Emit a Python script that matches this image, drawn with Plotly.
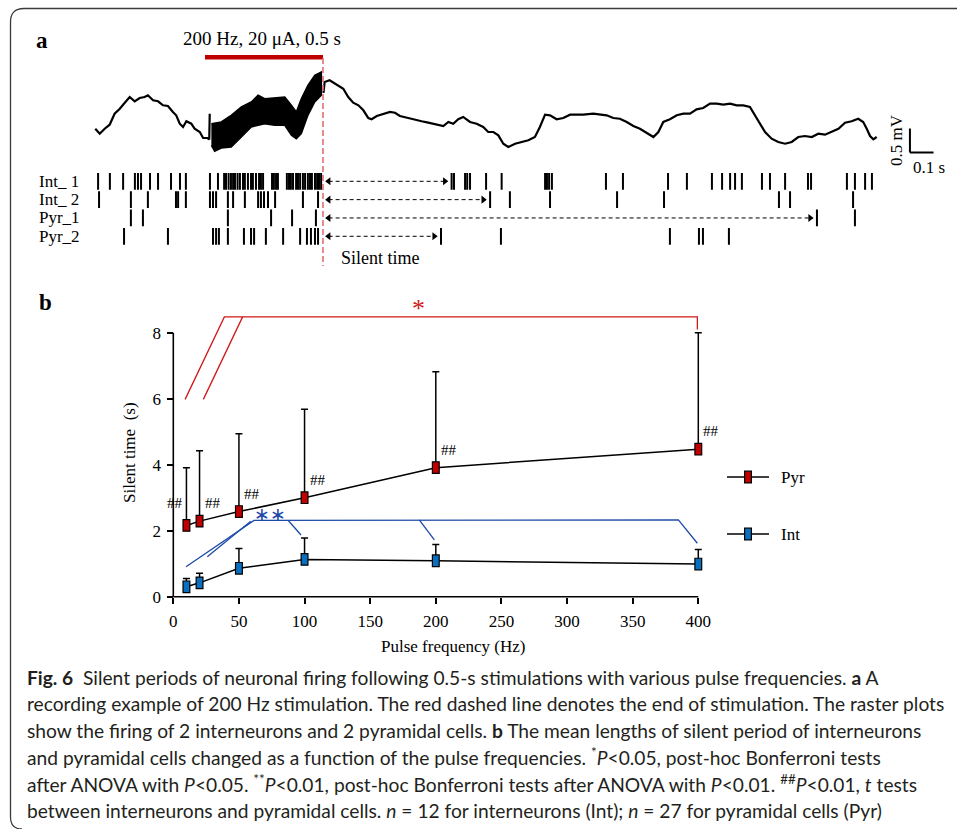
import plotly.graph_objects as go

# ---------------- data: panel a (voltage trace, s / mV) ----------------
pre_t = [-0.465, -0.446, -0.425, -0.404, -0.383, -0.361, -0.340, -0.319, -0.298, -0.277, -0.256, -0.242,
         -0.220, -0.199, -0.178, -0.157, -0.136, -0.122, -0.107, -0.093, -0.079, -0.058, -0.044, -0.022,
         -0.008, 0.010, 0.018, 0.020]
pre_v = [-0.077, -0.181, -0.077, 0.006, 0.235, 0.340, 0.465, 0.583, 0.494, 0.563, 0.583, 0.619,
         0.515, 0.494, 0.410, 0.396, 0.271, 0.202, 0.027, -0.042, 0.077, 0.027, -0.077, -0.146,
         -0.271, -0.271, -0.300, 0.235]
band_t = [0.027, 0.041, 0.069, 0.111, 0.154, 0.196, 0.225, 0.253, 0.295, 0.338, 0.366, 0.387, 0.408, 0.436, 0.465, 0.493]
band_hi = [0.027, 0.042, 0.063, 0.202, 0.375, 0.479, 0.619, 0.548, 0.563, 0.583, 0.410, 0.271, 0.548, 0.827, 1.035, 1.104]
band_lo = [-0.423, -0.548, -0.479, -0.458, -0.250, -0.042, 0.000, 0.027, -0.006, -0.006, -0.215, -0.285, -0.181, 0.202, 0.479, 0.619]
post_t = [0.502, 0.507, 0.528, 0.550, 0.586, 0.607, 0.628, 0.650, 0.671, 0.692, 0.706, 0.728, 0.756, 0.784,
          0.805, 0.826, 0.861, 0.890, 0.918, 0.946, 0.975, 1.010, 1.031, 1.052, 1.073, 1.094, 1.123, 1.151,
          1.179, 1.200, 1.222, 1.243, 1.264, 1.285, 1.314, 1.342, 1.370, 1.398, 1.419, 1.441, 1.462, 1.490,
          1.518, 1.547, 1.575, 1.603, 1.645, 1.674, 1.702, 1.730, 1.758, 1.787, 1.815, 1.843, 1.872, 1.900,
          1.921, 1.942, 1.970, 1.999, 2.027, 2.055, 2.083, 2.111, 2.140, 2.168, 2.196, 2.225, 2.253, 2.281,
          2.309, 2.331, 2.352, 2.373, 2.401, 2.429, 2.458, 2.486, 2.514, 2.542, 2.571, 2.599, 2.627, 2.656,
          2.684, 2.712, 2.740, 2.768, 2.789, 2.804, 2.818, 2.832, 2.846]
post_v = [0.667, 0.896, 0.931, 0.860, 0.756, 0.583, 0.465, 0.410, 0.306, 0.146, 0.119, 0.188, 0.235, 0.271,
          0.256, 0.188, 0.146, 0.119, 0.077, 0.048, 0.021, -0.021, 0.063, 0.027, 0.119, 0.167, 0.063, 0.027,
          -0.042, -0.146, -0.146, -0.215, -0.390, -0.458, -0.390, -0.354, -0.319, -0.250, -0.042, 0.215, 0.202, 0.119,
          0.146, 0.215, 0.215, 0.215, 0.235, 0.215, 0.202, 0.146, 0.131, 0.063, -0.021, -0.077, -0.160, -0.250,
          -0.146, 0.063, 0.119, 0.202, 0.235, 0.235, 0.327, 0.354, 0.444, 0.444, 0.423, 0.444, 0.410, 0.410,
          0.375, 0.202, 0.027, -0.146, -0.285, -0.354, -0.390, -0.354, -0.250, -0.229, -0.250, -0.181, -0.202, -0.146,
          -0.077, 0.048, 0.077, 0.131, 0.063, -0.077, -0.229, -0.298, -0.250]
STIM_START, STIM_END = 0.0, 0.5
stim_label = "200 Hz, 20 μA, 0.5 s"

# raster spike times (s)
row_labels = ["Int_ 1", "Int_ 2", "Pyr_1", "Pyr_2"]
spk_int1 = [-0.453, -0.403, -0.347, -0.297, -0.284, -0.271, -0.233, -0.199, -0.144, -0.106, -0.081, 0.021, 0.055,
            0.081, 0.089, 0.100, 0.110, 0.119, 0.127, 0.138, 0.148, 0.161, 0.169, 0.182, 0.195, 0.203, 0.216,
            0.229, 0.237, 0.246, 0.284, 0.292, 0.301, 0.309, 0.347, 0.356, 0.364, 0.373, 0.386, 0.394, 0.403,
            0.415, 0.424, 0.436, 0.445, 0.453, 0.466, 0.475, 0.483, 0.492, 1.045, 1.055, 1.102, 1.111, 1.123,
            1.191, 1.257, 1.441, 1.449, 1.458, 1.470, 1.699, 1.771, 1.962, 2.042, 2.148, 2.191, 2.225, 2.246,
            2.275, 2.360, 2.394, 2.458, 2.555, 2.568, 2.720, 2.754, 2.797, 2.826]
spk_int2 = [-0.449, -0.314, -0.242, -0.123, -0.114, -0.081, 0.021, 0.034, 0.047, 0.097, 0.119, 0.169, 0.225,
            0.237, 0.250, 0.267, 0.297, 0.415, 0.479, 1.208, 1.292, 1.462, 1.746, 1.945, 2.432, 2.479, 2.746]
spk_pyr1 = [-0.314, -0.263, 0.097, 0.280, 0.369, 0.470, 2.593, 2.754]
spk_pyr2 = [-0.343, -0.157, 0.034, 0.047, 0.059, 0.097, 0.165, 0.195, 0.208, 0.258, 0.331, 0.403, 0.432,
            0.449, 0.466, 0.479, 1.000, 1.254, 1.970, 2.093, 2.110, 2.220]
spikes = [spk_int1, spk_int2, spk_pyr1, spk_pyr2]

# ---------------- data: panel b ----------------
freq = [10, 20, 50, 100, 200, 400]
pyr_mean = [2.16, 2.29, 2.58, 3.00, 3.91, 4.47]
pyr_upper = [3.91, 4.42, 4.94, 5.68, 6.82, 8.00]
int_mean = [0.30, 0.42, 0.86, 1.13, 1.09, 0.99]
int_upper = [0.55, 0.71, 1.46, 1.78, 1.58, 1.43]
x_ticks = [0, 50, 100, 150, 200, 250, 300, 350, 400]
y_ticks = [0, 2, 4, 6, 8]

# significance brackets (Hz, s)
red_br_a = ([9, 38.9, 399.3, 399.3], [5.98, 8.48, 8.48, 8.10])
red_br_b = ([22.9, 52.8], [5.98, 8.48])
blue_br_c = ([9.7, 61.5, 384.8, 399.3], [0.91, 2.31, 2.33, 1.62])
blue_br_d = ([25.9, 59.0], [1.21, 2.29])
blue_br_e = ([87.6, 97.3], [2.31, 1.87])
blue_br_f = ([187.4, 198.9], [2.33, 1.72])

caption_lines = [
    "<b>Fig. 6</b>  Silent periods of neuronal firing following 0.5-s stimulations with various pulse frequencies. <b>a</b> A",
    "recording example of 200 Hz stimulation. The red dashed line denotes the end of stimulation. The raster plots",
    "show the firing of 2 interneurons and 2 pyramidal cells. <b>b</b> The mean lengths of silent period of interneurons",
    "and pyramidal cells changed as a function of the pulse frequencies. <sup>*</sup><i>P</i>&lt;0.05, post-hoc Bonferroni tests",
    "after ANOVA with <i>P</i>&lt;0.05. <sup>**</sup><i>P</i>&lt;0.01, post-hoc Bonferroni tests after ANOVA with <i>P</i>&lt;0.01. <sup>##</sup><i>P</i>&lt;0.01, <i>t</i> tests",
    "between interneurons and pyramidal cells. <i>n</i> = 12 for interneurons (Int); <i>n</i> = 27 for pyramidal cells (Pyr)",
]

# ---------------- layout helpers ----------------
W, H = 957, 829
def px(x):
    return x / W
def py(y):
    return 1 - y / H

SERIF = "Liberation Serif"
SANS = "Lato"
RED = "#c00000"
BLUE = "#0a6fbf"
BR_RED = "#d01818"
BR_BLUE = "#1d4aa6"
FS = 17

# panel b pixel mapping
B_X0, B_XS, B_Y0, B_YS = 173.3, 1.3125, 596.7, 33.0
XR = [-12, 412]
YR = [-0.45, 8.75]
# panel a pixel mapping
A_T0, A_TS, A_V0, A_VS = 205.0, 236.0, 125.0, 48.0
R_TOP, R_STEP = 181.3, 18.33

def ptext(x, y, text, size=FS, color="black", family=SERIF, xanchor="center", yanchor="middle", **kw):
    return dict(x=px(x), y=py(y), xref="paper", yref="paper", text=text, showarrow=False,
                xanchor=xanchor, yanchor=yanchor, font=dict(family=family, size=size, color=color), **kw)

fig = go.Figure()

# ---- panel a: trace ----
fig.add_trace(go.Scatter(x=pre_t, y=pre_v, mode="lines", line=dict(color="black", width=2.2),
                         xaxis="x2", yaxis="y2", hoverinfo="skip"))
fig.add_trace(go.Scatter(x=band_t + band_t[::-1], y=band_hi + band_lo[::-1], mode="lines", fill="toself",
                         fillcolor="black", line=dict(color="black", width=1.5),
                         xaxis="x2", yaxis="y2", hoverinfo="skip"))
fig.add_trace(go.Scatter(x=post_t, y=post_v, mode="lines", line=dict(color="black", width=2.2),
                         xaxis="x2", yaxis="y2", hoverinfo="skip"))

# ---- panel a: raster ----
annotations = []
HEAD = 2.8 / A_TS  # arrowhead centre offset from its tip (s)
for i, (lab, sp) in enumerate(zip(row_labels, spikes)):
    fig.add_trace(go.Scatter(x=sp, y=[i] * len(sp), mode="markers", name=lab,
                             marker=dict(symbol="line-ns", size=12, line=dict(width=2, color="black")),
                             xaxis="x2", yaxis="y3", hoverinfo="skip"))
    first_after = min(s for s in sp if s > STIM_END)
    a0 = STIM_END + 0.012
    a1 = first_after - 0.017
    fig.add_trace(go.Scatter(x=[a0 + HEAD, a1 - HEAD], y=[i, i], mode="lines",
                             line=dict(color="black", width=1, dash="4px,3px"),
                             xaxis="x2", yaxis="y3", hoverinfo="skip"))
    fig.add_trace(go.Scatter(x=[a0 + HEAD, a1 - HEAD], y=[i, i], mode="markers",
                             marker=dict(symbol=["triangle-left", "triangle-right"], size=7, color="black",
                                         line=dict(width=0)),
                             xaxis="x2", yaxis="y3", hoverinfo="skip"))
    annotations.append(dict(x=px(37), y=i, xref="paper", yref="y3", text=lab, showarrow=False,
                            xanchor="left", yanchor="middle", font=dict(family=SERIF, size=FS, color="black")))

# ---- panel b ----
fig.add_trace(go.Scatter(x=freq, y=pyr_mean, mode="lines", name="Pyr",
                         line=dict(color="black", width=1.5),
                         error_y=dict(type="data", symmetric=False,
                                      array=[u - m for u, m in zip(pyr_upper, pyr_mean)],
                                      arrayminus=[0] * len(freq), color="black", thickness=1.5, width=3.5)))
fig.add_trace(go.Scatter(x=freq, y=int_mean, mode="lines", name="Int",
                         line=dict(color="black", width=1.5),
                         error_y=dict(type="data", symmetric=False,
                                      array=[u - m for u, m in zip(int_upper, int_mean)],
                                      arrayminus=[0] * len(freq), color="black", thickness=1.5, width=3.5)))
for (bx, by), col in ((red_br_a, BR_RED), (red_br_b, BR_RED), (blue_br_c, BR_BLUE),
                      (blue_br_d, BR_BLUE), (blue_br_e, BR_BLUE), (blue_br_f, BR_BLUE)):
    fig.add_trace(go.Scatter(x=bx, y=by, mode="lines", line=dict(color=col, width=1.3), hoverinfo="skip"))

shapes = []
# spines
shapes.append(dict(type="line", xref="x", yref="y", x0=x_ticks[0], x1=x_ticks[-1], y0=0, y1=0,
                   line=dict(color="black", width=1.6)))
shapes.append(dict(type="line", xref="x", yref="y", x0=0, x1=0, y0=y_ticks[0], y1=y_ticks[-1],
                   line=dict(color="black", width=1.6)))
# rectangular markers
MW, MH = 3.4 / B_XS, 5.8 / B_YS
for f, m in zip(freq, pyr_mean):
    shapes.append(dict(type="rect", xref="x", yref="y", x0=f - MW, x1=f + MW, y0=m - MH, y1=m + MH,
                       fillcolor=RED, line=dict(color="black", width=1.2), layer="above"))
for f, m in zip(freq, int_mean):
    shapes.append(dict(type="rect", xref="x", yref="y", x0=f - MW, x1=f + MW, y0=m - MH, y1=m + MH,
                       fillcolor=BLUE, line=dict(color="black", width=1.2), layer="above"))

# ## labels
for k, (f, m) in enumerate(zip(freq, pyr_mean)):
    if k == 0:
        annotations.append(dict(x=f, y=m, xref="x", yref="y", text="##", showarrow=False, xanchor="right",
                                yanchor="middle", xshift=-1, yshift=22, font=dict(family=SERIF, size=15, color="black")))
    else:
        annotations.append(dict(x=f, y=m, xref="x", yref="y", text="##", showarrow=False, xanchor="left",
                                yanchor="middle", xshift=3, yshift=18, font=dict(family=SERIF, size=15, color="black")))
annotations.append(ptext(418, 309, "*", size=26, color=BR_RED))
annotations.append(dict(x=74, y=2.52, xref="x", yref="y", text="∗∗", showarrow=False, xanchor="center",
                        font=dict(family="DejaVu Sans", size=19, color=BR_BLUE), yanchor="middle"))

# legend (manual)
for name, col, yy in (("Pyr", RED, 477), ("Int", BLUE, 534)):
    shapes.append(dict(type="line", xref="paper", yref="paper", x0=px(727), x1=px(769), y0=py(yy), y1=py(yy),
                       line=dict(color="black", width=1.5)))
    shapes.append(dict(type="rect", xref="paper", yref="paper", x0=px(744.6), x1=px(751.4),
                       y0=py(yy + 5.8), y1=py(yy - 5.8), fillcolor=col, line=dict(color="black", width=1.2)))
    annotations.append(ptext(779, yy, name, xanchor="left"))

# axis titles
annotations.append(ptext(453, 646, "Pulse frequency (Hz)"))
annotations.append(ptext(130, 453, "Silent time\u00a0 (s)", textangle=-90))

# ---- panel a decorations ----
shapes.append(dict(type="line", xref="x2", yref="paper", x0=STIM_START, x1=STIM_END, y0=py(57.2), y1=py(57.2),
                   line=dict(color=RED, width=4.5)))
shapes.append(dict(type="line", xref="x2", yref="paper", x0=STIM_END, x1=STIM_END, y0=py(58), y1=py(266),
                   line=dict(color="#e07070", width=1.6, dash="6px,3px")))
SB_T, SB_V = 2.987, -0.573
shapes.append(dict(type="line", xref="x2", yref="y2", x0=SB_T, x1=SB_T, y0=SB_V, y1=SB_V + 0.5,
                   line=dict(color="black", width=2)))
shapes.append(dict(type="line", xref="x2", yref="y2", x0=SB_T, x1=SB_T + 0.1, y0=SB_V, y1=SB_V,
                   line=dict(color="black", width=2)))
annotations.append(dict(x=SB_T, y=SB_V + 0.27, xref="x2", yref="y2", text="0.5 mV", textangle=-90,
                        showarrow=False, xanchor="right", yanchor="middle", xshift=-2,
                        font=dict(family=SERIF, size=FS, color="black")))
annotations.append(dict(x=SB_T + 0.08, y=SB_V, xref="x2", yref="y2", text="0.1 s", showarrow=False,
                        xanchor="center", yanchor="top", yshift=-3, font=dict(family=SERIF, size=FS, color="black")))
annotations.append(dict(x=(STIM_START + STIM_END) / 2 - 0.01, y=py(38.5), xref="x2", yref="paper", text=stim_label,
                        showarrow=False, xanchor="center", yanchor="middle",
                        font=dict(family=SERIF, size=19, color="black")))
annotations.append(ptext(380, 258, "Silent time", size=18))
annotations.append(ptext(42, 40, "<b>a</b>", size=23))
annotations.append(ptext(45, 302, "<b>b</b>", size=23))

# caption
for k, line in enumerate(caption_lines):
    yc = 677 + k * 26.6
    annotations.append(ptext(25, yc, line, size=19.2, color="#231f20", family=SANS, xanchor="left", align="left"))

# frame
frame_path = (f"M {px(22)},{py(829)} Q {px(10.5)},{py(829)} {px(10.5)},{py(817)} "
              f"L {px(10.5)},{py(22)} Q {px(10.5)},{py(8.5)} {px(24)},{py(8.5)} L {px(957)},{py(8.5)}")
shapes.append(dict(type="path", xref="paper", yref="paper", path=frame_path,
                   line=dict(color="#3a3a3a", width=1.3)))

tick_common = dict(showline=False, zeroline=False, showgrid=False, tickmode="array", ticks="outside",
                   ticklen=6, tickwidth=1.5, tickcolor="black",
                   tickfont=dict(family=SERIF, size=FS, color="black"))
fig.update_layout(
    width=W, height=H, margin=dict(l=0, r=0, t=0, b=0),
    paper_bgcolor="white", plot_bgcolor="rgba(0,0,0,0)", showlegend=False,
    xaxis=dict(domain=[px(B_X0 + XR[0] * B_XS), px(B_X0 + XR[1] * B_XS)], range=XR,
               anchor="free", position=py(B_Y0), tickvals=x_ticks, ticklabelstandoff=3, **tick_common),
    yaxis=dict(domain=[py(B_Y0 - YR[0] * B_YS), py(B_Y0 - YR[1] * B_YS)], range=YR,
               anchor="free", position=px(B_X0), tickvals=y_ticks, ticklabelstandoff=3, **tick_common),
    xaxis2=dict(domain=[0, 1], range=[(0 - A_T0) / A_TS, (W - A_T0) / A_TS], anchor="y2", visible=False),
    yaxis2=dict(domain=[py(165), py(60)], range=[(A_V0 - 165) / A_VS, (A_V0 - 60) / A_VS], anchor="x2", visible=False),
    yaxis3=dict(domain=[py(R_TOP + 3.5 * R_STEP), py(R_TOP - 0.5 * R_STEP)], range=[3.5, -0.5],
                anchor="x2", visible=False),
    shapes=shapes, annotations=annotations,
)

fig.write_html("out.html")
